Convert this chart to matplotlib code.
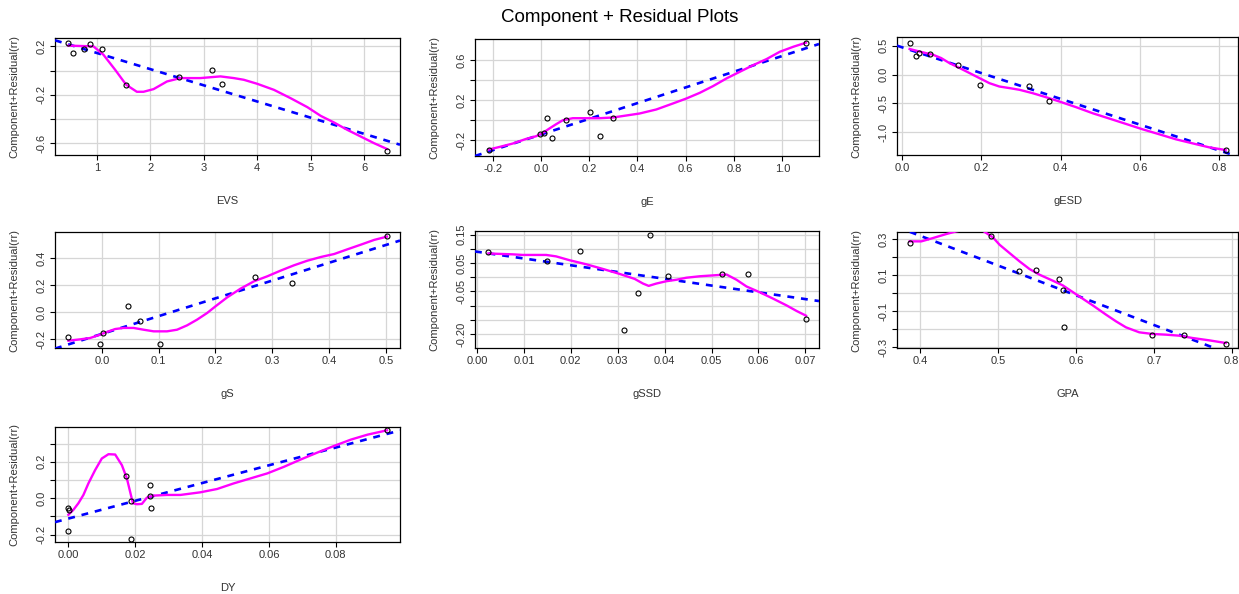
"""
Component + residual plots, redrawn in matplotlib (R car::crPlots look).
"""
import matplotlib
matplotlib.use("Agg")
import matplotlib.pyplot as plt

plt.rcParams["font.family"] = ["Liberation Sans", "DejaVu Sans"]

W, H = 1239, 594

# ---------------------------------------------------------------------------
# Data
# ---------------------------------------------------------------------------
# EVS
evs_x = [0.469, 0.563, 0.763, 0.875, 1.10, 1.55, 2.53, 3.16, 3.34, 6.425]
evs_y = [0.228, 0.145, 0.181, 0.222, 0.181, -0.123, -0.054, 0.001, -0.109, -0.661]
evs_fit_x = [0.22, 6.67]
evs_fit_y = [0.25, -0.612]
evs_smooth_x = [0.469, 0.938, 1.125, 1.344, 1.55, 1.75, 1.875, 2.063, 2.313, 2.563,
                2.938, 3.313, 3.563, 3.75, 4.0, 4.313, 4.625, 4.938, 5.188, 5.438,
                5.688, 5.938, 6.188, 6.425]
evs_smooth_y = [0.206, 0.200, 0.131, 0.007, -0.117, -0.175, -0.175, -0.153, -0.090, -0.062,
                -0.062, -0.048, -0.062, -0.076, -0.109, -0.159, -0.228, -0.302, -0.374, -0.429,
                -0.490, -0.545, -0.600, -0.647]

# gE
ge_x = [-0.217, -0.002, 0.012, 0.026, 0.046, 0.102, 0.204, 0.246, 0.300, 1.098]
ge_y = [-0.300, -0.140, -0.130, 0.027, -0.173, 0.0, 0.077, -0.153, 0.023, 0.773]
ge_fit_x = [-0.273, 1.152]
ge_fit_y = [-0.357, 0.76]
ge_smooth_x = [-0.217, -0.172, -0.117, -0.062, -0.020, 0.008, 0.035, 0.063, 0.091, 0.132,
               0.188, 0.243, 0.298, 0.354, 0.409, 0.478, 0.547, 0.603, 0.658, 0.713,
               0.769, 0.824, 0.880, 0.935, 0.990, 1.046, 1.098]
ge_smooth_y = [-0.293, -0.267, -0.233, -0.187, -0.160, -0.127, -0.083, -0.040, 0.0, 0.020,
               0.020, 0.020, 0.027, 0.047, 0.067, 0.107, 0.167, 0.217, 0.273, 0.340,
               0.417, 0.483, 0.550, 0.610, 0.683, 0.733, 0.773]

# gESD
gesd_x = [0.0185, 0.0353, 0.042, 0.0706, 0.1395, 0.1966, 0.321, 0.3714, 0.8168]
gesd_y = [0.546, 0.315, 0.373, 0.361, 0.158, -0.189, -0.206, -0.450, -1.307]
gesd_fit_x = [-0.0134, 0.848]
gesd_fit_y = [0.50, -1.42]
gesd_smooth_x = [0.0185, 0.052, 0.077, 0.098, 0.119, 0.145, 0.170, 0.195, 0.220, 0.245,
                 0.271, 0.296, 0.329, 0.363, 0.397, 0.439, 0.481, 0.523, 0.565, 0.607,
                 0.649, 0.691, 0.733, 0.775, 0.8168]
gesd_smooth_y = [0.442, 0.384, 0.344, 0.286, 0.199, 0.112, 0.025, -0.062, -0.149, -0.207,
                 -0.235, -0.264, -0.322, -0.392, -0.467, -0.565, -0.670, -0.762, -0.855, -0.948,
                 -1.034, -1.121, -1.191, -1.260, -1.307]

# gS
gs_x = [-0.0588, -0.0029, 0.0029, 0.0453, 0.0676, 0.1018, 0.2688, 0.334, 0.5018]
gs_y = [-0.182, -0.233, -0.152, 0.044, -0.061, -0.233, 0.258, 0.216, 0.564]
gs_fit_x = [-0.0824, 0.5247]
gs_fit_y = [-0.267, 0.528]
gs_smooth_x = [-0.0588, -0.0382, -0.0206, -0.0029, 0.0088, 0.0235, 0.0382, 0.0559, 0.0735,
               0.0912, 0.1147, 0.1324, 0.150, 0.1676, 0.1853, 0.200, 0.2206, 0.2441, 0.2676,
               0.2912, 0.3147, 0.3382, 0.3618, 0.3853, 0.4088, 0.4324, 0.4559, 0.4794, 0.5018]
gs_smooth_y = [-0.209, -0.199, -0.189, -0.164, -0.145, -0.123, -0.115, -0.115, -0.128,
               -0.140, -0.140, -0.128, -0.096, -0.054, -0.005, 0.044, 0.110, 0.174, 0.228,
               0.265, 0.307, 0.346, 0.380, 0.407, 0.429, 0.464, 0.498, 0.533, 0.557]

# gSSD
gssd_x = [0.00242, 0.01488, 0.0220, 0.03133, 0.03439, 0.03688, 0.04065, 0.05226, 0.05767, 0.07013]
gssd_y = [0.0885, 0.0577, 0.0915, -0.1864, -0.0551, 0.1469, 0.0033, 0.0095, 0.0095, -0.1474]
gssd_fit_x = [-0.00043, 0.0729]
gssd_fit_y = [0.0905, -0.0838]
gssd_smooth_x = [0.00242, 0.00762, 0.00975, 0.01474, 0.01687, 0.01972, 0.02328, 0.02684,
                 0.0304, 0.0336, 0.03538, 0.03659, 0.03823, 0.04037, 0.0425, 0.04464,
                 0.04749, 0.05034, 0.05318, 0.05532, 0.05745, 0.0603, 0.06315, 0.066,
                 0.06813, 0.07013]
gssd_smooth_y = [0.0833, 0.0803, 0.0782, 0.0782, 0.0731, 0.0597, 0.0454, 0.029,
                 0.0115, -0.0059, -0.0223, -0.0305, -0.0223, -0.0141, -0.009, -0.0018,
                 0.0033, 0.0064, 0.0095, -0.009, -0.0326, -0.0531, -0.0756, -0.0992,
                 -0.1187, -0.1351]

# GPA
gpa_x = [0.3863, 0.4902, 0.5261, 0.5487, 0.5778, 0.5829, 0.5850, 0.697, 0.738, 0.7923]
gpa_y = [0.2778, 0.3185, 0.1246, 0.1302, 0.0803, 0.0176, -0.1874, -0.2298, -0.2298, -0.2815]
gpa_fit_x = [0.370, 0.808]
gpa_fit_y = [0.367, -0.354]
gpa_smooth_x = [0.3863, 0.4013, 0.4162, 0.4333, 0.4462, 0.4632, 0.4803, 0.4932, 0.5017,
                0.5145, 0.5274, 0.5402, 0.553, 0.5701, 0.5829, 0.5957, 0.6085, 0.6214,
                0.6385, 0.6513, 0.6641, 0.6812, 0.6983, 0.7154, 0.7325, 0.7496, 0.7709, 0.7923]
gpa_smooth_y = [0.2871, 0.2871, 0.3055, 0.3277, 0.3425, 0.357, 0.346, 0.3092, 0.2686,
                0.2225, 0.1763, 0.1339, 0.1025, 0.0692, 0.0434, 0.0065, -0.0304, -0.0674,
                -0.119, -0.156, -0.1892, -0.2169, -0.2261, -0.2298, -0.2354, -0.2483, -0.2612, -0.276]

# DY
dy_x = [0.0, 0.0001, 0.0, 0.0172, 0.0187, 0.0187, 0.0243, 0.0243, 0.0248, 0.0953]
dy_y = [-0.0509, -0.0618, -0.178, 0.1218, -0.0145, -0.2218, 0.0727, 0.0145, -0.0545, 0.3727]
dy_fit_x = [-0.004, 0.0992]
dy_fit_y = [-0.131, 0.372]
dy_smooth_x = [0.0, 0.0015, 0.003, 0.0045, 0.006, 0.008, 0.010, 0.012, 0.014, 0.016,
               0.0175, 0.0193, 0.0205, 0.022, 0.0235, 0.0255, 0.0295, 0.0335, 0.0395,
               0.0445, 0.0495, 0.0545, 0.0595, 0.0645, 0.0695, 0.0745, 0.0795, 0.0845,
               0.0895, 0.0953]
dy_smooth_y = [-0.0909, -0.0636, -0.0273, 0.0182, 0.0818, 0.1545, 0.2182, 0.2418, 0.240,
               0.1818, 0.1091, -0.0273, -0.0327, -0.0309, 0.0036, 0.0145, 0.0182, 0.0182,
               0.0327, 0.0509, 0.0818, 0.1091, 0.1364, 0.1727, 0.2127, 0.2509, 0.2873,
               0.3218, 0.3491, 0.3727]

# ---------------------------------------------------------------------------
# Panel spec: name, data, limits, ticks, pixel box (left, top, right, bottom)
# ---------------------------------------------------------------------------
panels = [
    ("EVS", evs_x, evs_y, evs_fit_x, evs_fit_y, evs_smooth_x, evs_smooth_y,
     (0.22, 6.67), (-0.697, 0.269),
     [1, 2, 3, 4, 5, 6], ["1", "2", "3", "4", "5", "6"],
     [-0.6, -0.4, -0.2, 0.0, 0.2], ["-0.6", "", "-0.2", "", "0.2"],
     (55, 38, 400, 155)),
    ("gE", ge_x, ge_y, ge_fit_x, ge_fit_y, ge_smooth_x, ge_smooth_y,
     (-0.273, 1.152), (-0.357, 0.81),
     [-0.2, 0.0, 0.2, 0.4, 0.6, 0.8, 1.0], ["-0.2", "0.0", "0.2", "0.4", "0.6", "0.8", "1.0"],
     [-0.2, 0.0, 0.2, 0.4, 0.6], ["-0.2", "", "0.2", "", "0.6"],
     (475, 39, 819, 156)),
    ("gESD", gesd_x, gesd_y, gesd_fit_x, gesd_fit_y, gesd_smooth_x, gesd_smooth_y,
     (-0.0134, 0.848), (-1.393, 0.65),
     [0.0, 0.2, 0.4, 0.6, 0.8], ["0.0", "0.2", "0.4", "0.6", "0.8"],
     [-1.0, -0.5, 0.0, 0.5], ["-1.0", "-0.5", "0.0", "0.5"],
     (897, 37, 1238, 155)),
    ("gS", gs_x, gs_y, gs_fit_x, gs_fit_y, gs_smooth_x, gs_smooth_y,
     (-0.0824, 0.5247), (-0.2626, 0.591),
     [0.0, 0.1, 0.2, 0.3, 0.4, 0.5], ["0.0", "0.1", "0.2", "0.3", "0.4", "0.5"],
     [-0.2, 0.0, 0.2, 0.4], ["-0.2", "0.0", "0.2", "0.4"],
     (55, 232, 400, 348)),
    ("gSSD", gssd_x, gssd_y, gssd_fit_x, gssd_fit_y, gssd_smooth_x, gssd_smooth_y,
     (-0.00043, 0.0729), (-0.2487, 0.1623),
     [0.0, 0.01, 0.02, 0.03, 0.04, 0.05, 0.06, 0.07],
     ["0.00", "0.01", "0.02", "0.03", "0.04", "0.05", "0.06", "0.07"],
     [-0.20, -0.15, -0.10, -0.05, 0.0, 0.05, 0.10, 0.15],
     ["-0.20", "", "", "-0.05", "", "0.05", "", "0.15"],
     (475, 231, 819, 348)),
    ("GPA", gpa_x, gpa_y, gpa_fit_x, gpa_fit_y, gpa_smooth_x, gpa_smooth_y,
     (0.370, 0.808), (-0.3037, 0.339),
     [0.4, 0.5, 0.6, 0.7, 0.8], ["0.4", "0.5", "0.6", "0.7", "0.8"],
     [-0.3, -0.2, -0.1, 0.0, 0.1, 0.2, 0.3], ["-0.3", "", "-0.1", "", "0.1", "", "0.3"],
     (897, 232, 1238, 348)),
    ("DY", dy_x, dy_y, dy_fit_x, dy_fit_y, dy_smooth_x, dy_smooth_y,
     (-0.004, 0.0992), (-0.24, 0.391),
     [0.0, 0.02, 0.04, 0.06, 0.08], ["0.00", "0.02", "0.04", "0.06", "0.08"],
     [-0.2, -0.1, 0.0, 0.1, 0.2, 0.3], ["-0.2", "", "0.0", "", "0.2", ""],
     (55, 427, 400, 542)),
]

fig = plt.figure(figsize=(W / 100, H / 100), dpi=100)
fig.text(0.5, 1 - 17 / H, "Component + Residual Plots", ha="center", va="center",
         fontsize=13.5)

for (name, px, py, fx, fy, sx, sy, xlim, ylim,
     xt, xtl, yt, ytl, box) in panels:
    l, t, r, b = box
    w_px, h_px = r - l, b - t
    ax = fig.add_axes([l / W, 1 - b / H, w_px / W, h_px / H])
    ax.set_xlim(*xlim)
    ax.set_ylim(*ylim)
    ax.set_xticks(xt)
    ax.set_xticklabels(xtl)
    ax.set_yticks(yt)
    ax.set_yticklabels(ytl, rotation=90, va="center")
    ax.grid(color="#d6d6d6", lw=0.9)
    ax.set_axisbelow(True)
    ax.tick_params(direction="out", length=3.5, width=0.8, labelsize=8,
                   labelcolor="#333333", pad=2.5)
    for sp in ax.spines.values():
        sp.set_linewidth(0.9)

    ax.plot(fx, fy, color="blue", lw=1.9, ls=(0, (2.6, 2.6)), zorder=3)
    ax.plot(sx, sy, color="magenta", lw=1.7, zorder=4)
    ax.plot(px, py, ls="none", marker="o", ms=3.6, mfc="none", mec="black",
            mew=0.8, zorder=5)

    # label positions in pixels, converted to axes fractions
    ax.set_xlabel(name, fontsize=8, color="#333333")
    ax.xaxis.set_label_coords(0.5, -41 / h_px)
    ax.set_ylabel("Component+Residual(rr)", fontsize=8, color="#333333")
    ax.yaxis.set_label_coords(-36 / w_px, 0.5)

plt.savefig("out.png", dpi=100)
plt.close()
